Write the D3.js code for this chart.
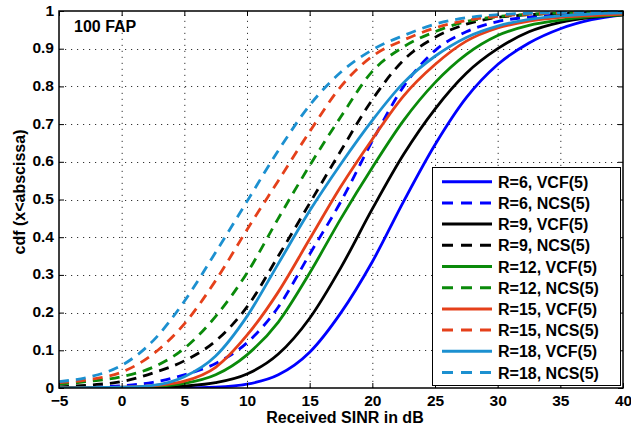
<!DOCTYPE html>
<html lang="en">
<head>
    <meta charset="UTF-8">
    <title>SINR cdf</title>
	<style>
		body { margin:0; background:#fff; }
		#CDF_CHART { display:block; }
		#CDF_CHART text { font-family: "Liberation Sans", Arial, sans-serif; font-weight: bold; fill:#000; }
		#CDF_CHART .tick line { stroke:#000; stroke-width:1; }
		#CDF_CHART .domain { display:none; }
	</style>
</head>
<body>
	<svg id="CDF_CHART"></svg>

    <script src="https://cdnjs.cloudflare.com/ajax/libs/d3/7.8.5/d3.min.js"></script>
    <script>
		/******** data ********/
		var xGrid = [-5, -2.5, 0, 2.5, 5, 7.5, 10, 12.5, 15, 17.5, 20, 22.5, 25, 27.5, 30, 32.5, 35, 37.5, 40];

		var r6Vcf  = [0, 0, 0, 0, 0, 0.002, 0.01, 0.035, 0.095, 0.2, 0.335, 0.495, 0.645, 0.77, 0.858, 0.915, 0.953, 0.977, 0.99];
		var r6Ncs  = [0, 0.002, 0.006, 0.015, 0.035, 0.065, 0.12, 0.215, 0.355, 0.495, 0.655, 0.8, 0.895, 0.945, 0.972, 0.984, 0.99, 0.994, 0.996];
		var r9Vcf  = [0, 0, 0, 0.001, 0.005, 0.014, 0.037, 0.09, 0.185, 0.32, 0.475, 0.62, 0.74, 0.835, 0.9, 0.945, 0.97, 0.983, 0.99];
		var r9Ncs  = [0.003, 0.008, 0.017, 0.04, 0.072, 0.125, 0.215, 0.35, 0.49, 0.63, 0.765, 0.87, 0.93, 0.965, 0.983, 0.99, 0.994, 0.996, 0.997];
		var r12Vcf = [0, 0, 0.001, 0.004, 0.012, 0.035, 0.088, 0.175, 0.305, 0.45, 0.585, 0.71, 0.81, 0.885, 0.935, 0.962, 0.976, 0.985, 0.99];
		var r12Ncs = [0.01, 0.018, 0.03, 0.055, 0.105, 0.19, 0.305, 0.45, 0.59, 0.72, 0.84, 0.905, 0.945, 0.972, 0.985, 0.991, 0.995, 0.997, 0.998];
		var r15Vcf = [0, 0, 0.002, 0.006, 0.018, 0.055, 0.14, 0.255, 0.395, 0.535, 0.66, 0.775, 0.858, 0.92, 0.955, 0.973, 0.983, 0.988, 0.992];
		var r15Ncs = [0.014, 0.023, 0.042, 0.09, 0.17, 0.285, 0.42, 0.55, 0.68, 0.8, 0.88, 0.923, 0.955, 0.975, 0.986, 0.992, 0.995, 0.997, 0.998];
		var r18Vcf = [0, 0.001, 0.002, 0.007, 0.03, 0.085, 0.19, 0.33, 0.47, 0.595, 0.71, 0.81, 0.88, 0.93, 0.96, 0.978, 0.987, 0.992, 0.995];
		var r18Ncs = [0.017, 0.03, 0.06, 0.125, 0.23, 0.36, 0.495, 0.63, 0.75, 0.838, 0.897, 0.935, 0.965, 0.982, 0.99, 0.994, 0.996, 0.998, 0.999];

		var seriesLabels = ["R=6, VCF(5)", "R=6, NCS(5)", "R=9, VCF(5)", "R=9, NCS(5)", "R=12, VCF(5)",
		                    "R=12, NCS(5)", "R=15, VCF(5)", "R=15, NCS(5)", "R=18, VCF(5)", "R=18, NCS(5)"];
		var seriesValues = [r6Vcf, r6Ncs, r9Vcf, r9Ncs, r12Vcf, r12Ncs, r15Vcf, r15Ncs, r18Vcf, r18Ncs];
		var seriesColors = ["#0000ff", "#0000ff", "#000000", "#000000", "#0a8a0a",
		                    "#0a8a0a", "#e5401a", "#e5401a", "#1c90d0", "#1c90d0"];
		var seriesDashed = [false, true, false, true, false, true, false, true, false, true];

		var xTicks = [-5, 0, 5, 10, 15, 20, 25, 30, 35, 40];
		var yTicks = [0, 1, 2, 3, 4, 5, 6, 7, 8, 9, 10].map(function(i){ return i / 10; });
		/******** data ********/

		var width = 631, height = 434;
		var plotLeft = 59, plotRight = 623, plotTop = 11, plotBottom = 388;

		var svg = d3.select("#CDF_CHART")
					.attr("width", width)
					.attr("height", height);

		var x = d3.scaleLinear().domain([-5, 40]).range([plotLeft, plotRight]);
		var y = d3.scaleLinear().domain([0, 1]).range([plotBottom, plotTop]);

		// dotted grid
		var grid = svg.append("g")
					.attr("stroke", "#333")
					.attr("stroke-width", 1)
					.attr("stroke-dasharray", "1.2,4.8");
		grid.selectAll("line.gx")
			.data(xTicks.slice(1, -1))
			.join("line")
				.attr("class", "gx")
				.attr("x1", function(d){ return x(d) + 0.5; })
				.attr("x2", function(d){ return x(d) + 0.5; })
				.attr("y1", plotBottom)
				.attr("y2", plotTop);
		grid.selectAll("line.gy")
			.data(yTicks.slice(1, -1))
			.join("line")
				.attr("class", "gy")
				.attr("x1", plotLeft)
				.attr("x2", plotRight)
				.attr("y1", function(d){ return Math.round(y(d)) + 0.5; })
				.attr("y2", function(d){ return Math.round(y(d)) + 0.5; });

		// curves
		svg.append("clipPath").attr("id", "plotClip")
			.append("rect")
				.attr("x", plotLeft).attr("y", plotTop - 2)
				.attr("width", plotRight - plotLeft).attr("height", plotBottom - plotTop + 2);

		var line = d3.line()
					.x(function(d){ return x(d[0]); })
					.y(function(d){ return y(d[1]); })
					.curve(d3.curveMonotoneX);

		svg.append("g")
			.attr("clip-path", "url(#plotClip)")
			.selectAll("path")
			.data(seriesValues)
			.join("path")
				.attr("fill", "none")
				.attr("stroke", function(d, i){ return seriesColors[i]; })
				.attr("stroke-width", 2.8)
				.attr("stroke-dasharray", function(d, i){ return seriesDashed[i] ? "10,7" : null; })
				.attr("d", function(vals){
					return line(vals.map(function(v, j){ return [xGrid[j], v]; }));
				});

		// axes, ticks on all four sides pointing in
		var fontSize = "15.5px";
		svg.append("g")
			.attr("transform", "translate(0," + plotBottom + ")")
			.call(d3.axisBottom(x).tickValues(xTicks).tickSize(-5).tickPadding(7))
			.selectAll("text").style("font-size", fontSize);
		svg.append("g")
			.attr("transform", "translate(" + plotLeft + ",0)")
			.call(d3.axisLeft(y).tickValues(yTicks).tickSize(-5).tickPadding(5)
					.tickFormat(function(d){ return d3.format("~g")(d); }))
			.selectAll("text")
				.attr("dy", "0.26em")
				.style("font-size", fontSize);
		svg.append("g")
			.attr("transform", "translate(0," + plotTop + ")")
			.call(d3.axisTop(x).tickValues(xTicks).tickSize(-5).tickFormat(""));
		svg.append("g")
			.attr("transform", "translate(" + plotRight + ",0)")
			.call(d3.axisRight(y).tickValues(yTicks).tickSize(-5).tickFormat(""));

		svg.append("rect")
			.attr("x", plotLeft).attr("y", plotTop)
			.attr("width", plotRight - plotLeft).attr("height", plotBottom - plotTop)
			.attr("fill", "none")
			.attr("stroke", "#000")
			.attr("stroke-width", 1.5);

		// labels
		svg.append("text")
			.attr("x", 345).attr("y", 423)
			.attr("text-anchor", "middle")
			.style("font-size", "16px")
			.text("Received SINR in dB");
		svg.append("text")
			.attr("transform", "translate(25,192) rotate(-90)")
			.attr("text-anchor", "middle")
			.style("font-size", "16px")
			.text("cdf (x<abscissa)");
		svg.append("text")
			.attr("x", 74).attr("y", 32)
			.style("font-size", "16px")
			.text("100 FAP");

		// legend
		var legend = svg.append("g");
		legend.append("rect")
			.attr("x", 432.5).attr("y", 167.5)
			.attr("width", 188).attr("height", 218)
			.attr("fill", "#fff")
			.attr("stroke", "#000")
			.attr("stroke-width", 1);

		var rowY = function(i){ return 181.7 + i * 21.2; };
		var rows = legend.selectAll("g.row")
						.data(seriesLabels)
						.join("g")
							.attr("class", "row");
		rows.append("line")
			.attr("x1", 442).attr("x2", 492)
			.attr("y1", function(d, i){ return rowY(i); })
			.attr("y2", function(d, i){ return rowY(i); })
			.attr("stroke", function(d, i){ return seriesColors[i]; })
			.attr("stroke-width", 3)
			.attr("stroke-dasharray", function(d, i){ return seriesDashed[i] ? "11,8" : null; });
		rows.append("text")
			.attr("x", 498)
			.attr("y", function(d, i){ return rowY(i) + 6; })
			.style("font-size", "16px")
			.text(function(d){ return d; });
	</script>
</body>
</html>
